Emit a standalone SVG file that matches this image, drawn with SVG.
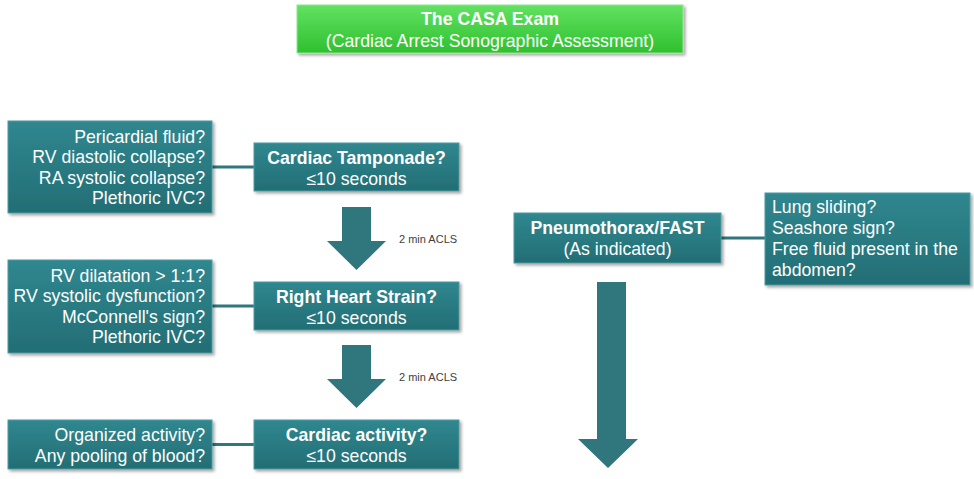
<svg xmlns="http://www.w3.org/2000/svg" width="974" height="479" viewBox="0 0 974 479">
<defs>
<linearGradient id="teal" x1="0" y1="0" x2="0" y2="1">
<stop offset="0" stop-color="#30878f"/>
<stop offset="1" stop-color="#236e75"/>
</linearGradient>
<linearGradient id="green" x1="0" y1="0" x2="0" y2="1">
<stop offset="0" stop-color="#62e262"/>
<stop offset="1" stop-color="#2fc02f"/>
</linearGradient>
<filter id="sh" x="-10%" y="-10%" width="125%" height="140%">
<feDropShadow dx="2" dy="2" stdDeviation="1.5" flood-color="#000" flood-opacity="0.35"/>
</filter>
</defs>
<style>
.box{fill:url(#teal);stroke:#4a9ca3;stroke-width:1;filter:url(#sh)}
.tbox{fill:url(#green);stroke:#8fe88f;stroke-width:1;filter:url(#sh)}
text{font-family:"Liberation Sans",Arial,sans-serif;font-size:17.7px;fill:#ffffff}
.b{font-weight:bold}
.r{text-anchor:end}
.c{text-anchor:middle}
.small{font-size:11px;fill:#404040}
.arrow{fill:#2f767d}
.line{stroke:#2f767d;stroke-width:3;fill:none}
</style>
<rect width="974" height="479" fill="#ffffff"/>

<g id="title">
<rect class="tbox" x="297" y="5" width="386" height="48"/>
<text class="c b" x="490" y="25">The CASA Exam</text>
<text class="c" x="490" y="47">(Cardiac Arrest Sonographic Assessment)</text>
</g>

<g id="connectors">
<line class="line" x1="212" y1="167" x2="254" y2="167"/>
<line class="line" x1="212" y1="306" x2="254" y2="306"/>
<line class="line" x1="212" y1="444.5" x2="254" y2="444.5"/>
<line class="line" x1="721" y1="238" x2="765" y2="238"/>
<polygon class="arrow" points="342,207 371,207 371,241 386,241 356.5,270 327,241 342,241"/>
<polygon class="arrow" points="342,345 371,345 371,379 386,379 356.5,408 327,379 342,379"/>
<polygon class="arrow" points="597,282 626,282 626,439 638,439 608,468 578,439 597,439"/>
</g>

<g id="label-acls1"><text class="small" x="399" y="243">2 min ACLS</text></g>
<g id="label-acls2"><text class="small" x="399" y="381">2 min ACLS</text></g>

<g id="tamponade-signs">
<rect class="box" x="8" y="121" width="204" height="92"/>
<text class="r" x="205" y="142.5">Pericardial fluid?</text>
<text class="r" x="205" y="163">RV diastolic collapse?</text>
<text class="r" x="205" y="183.5">RA systolic collapse?</text>
<text class="r" x="205" y="204">Plethoric IVC?</text>
</g>

<g id="tamponade">
<rect class="box" x="254" y="143" width="205" height="48"/>
<text class="c b" x="356.5" y="164">Cardiac Tamponade?</text>
<text class="c" x="356.5" y="185">≤10 seconds</text>
</g>

<g id="strain-signs">
<rect class="box" x="8" y="260" width="204" height="93"/>
<text class="r" x="205" y="281.5">RV dilatation &gt; 1:1?</text>
<text class="r" x="205" y="302">RV systolic dysfunction?</text>
<text class="r" x="205" y="322.5">McConnell's sign?</text>
<text class="r" x="205" y="343">Plethoric IVC?</text>
</g>

<g id="strain">
<rect class="box" x="254" y="282" width="205" height="48"/>
<text class="c b" x="356.5" y="303">Right Heart Strain?</text>
<text class="c" x="356.5" y="324">≤10 seconds</text>
</g>

<g id="activity-signs">
<rect class="box" x="8" y="420" width="204" height="49"/>
<text class="r" x="205" y="440.5">Organized activity?</text>
<text class="r" x="205" y="461.5">Any pooling of blood?</text>
</g>

<g id="activity">
<rect class="box" x="254" y="420" width="205" height="49"/>
<text class="c b" x="356.5" y="440.5">Cardiac activity?</text>
<text class="c" x="356.5" y="461.5">≤10 seconds</text>
</g>

<g id="pneumo">
<rect class="box" x="514" y="213" width="207" height="50"/>
<text class="c b" x="617.5" y="234">Pneumothorax/FAST</text>
<text class="c" x="617.5" y="255">(As indicated)</text>
</g>

<g id="pneumo-signs">
<rect class="box" x="765" y="193" width="205" height="92"/>
<text x="772" y="213">Lung sliding?</text>
<text x="772" y="234">Seashore sign?</text>
<text x="772" y="255">Free fluid present in the</text>
<text x="772" y="276">abdomen?</text>
</g>
</svg>
